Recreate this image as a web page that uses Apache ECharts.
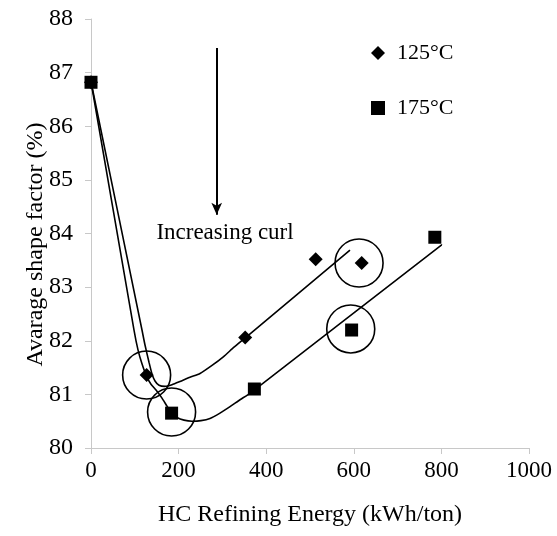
<!DOCTYPE html>
<html>
<head>
<meta charset="utf-8">
<script src="https://cdn.jsdelivr.net/npm/echarts@6/dist/echarts.min.js"></script>
<style>html,body{margin:0;padding:0;background:#fff}#c{width:557px;height:536px}</style>
</head>
<body>
<div id="c"></div>
<script>
// Measured points
var pts125 = [[0, 86.82], [127, 81.36], [352, 82.06], [513, 83.52], [618, 83.45]];
var pts175 = [[0, 86.82], [184, 80.65], [373, 81.10], [595, 82.20], [785, 83.93]];
// Hand-drawn trend curves
var trendA = [[0, 86.83], [98.2, 82.20], [107.3, 81.83], [116.4, 81.57], [127.2, 81.33], [137.0, 81.19],
  [148.4, 81.08], [162.1, 80.93], [173.5, 80.78], [184.2, 80.65], [196.3, 80.57], [212.3, 80.52],
  [230.6, 80.50], [251.1, 80.51], [271.7, 80.55], [294.5, 80.65], [317.4, 80.77], [340.2, 80.90],
  [363.0, 81.02], [800.7, 83.79]];
var trendB = [[0, 86.83], [116.4, 82.20], [123.3, 81.92], [132.4, 81.60], [139.3, 81.38], [146.1, 81.25],
  [155.3, 81.17], [169.0, 81.15], [184.9, 81.18], [203.2, 81.24], [226.0, 81.32], [248.9, 81.39],
  [276.3, 81.54], [302.1, 81.70], [326.5, 81.88], [351.6, 82.05], [591.3, 83.69]];
// Circled points
var circled = [[127, 81.36], [184, 80.67], [612, 83.45], [593, 82.22]];
// Annotation
var arrowFrom = [287, 87.46];
var arrowTo = [287, 84.35];
var noteAt = [306, 84.01];
var noteText = 'Increasing curl';
var xTicks = {min: 0, max: 1000, interval: 200};
var yTicks = {min: 80, max: 88, interval: 1};

var FONT = 'Liberation Serif';
var chart = echarts.init(document.getElementById('c'), null, {renderer: 'canvas'});
var trendStyle = {color: '#000', width: 1.6};
chart.setOption({
  animation: false,
  backgroundColor: '#fff',
  textStyle: {fontFamily: FONT, color: '#000'},
  grid: {left: 91, right: 28, top: 19, bottom: 88},
  legend: {
    orient: 'vertical', left: 371, top: 42, itemGap: 33, padding: 0,
    itemWidth: 14, itemHeight: 14,
    textStyle: {fontFamily: FONT, fontSize: 22, color: '#000', lineHeight: 22, padding: [0, 0, 0, 7]},
    data: [{name: '125°C', icon: 'diamond'}, {name: '175°C', icon: 'rect'}]
  },
  xAxis: {
    type: 'value', min: xTicks.min, max: xTicks.max, interval: xTicks.interval,
    name: 'HC Refining Energy (kWh/ton)', nameLocation: 'middle', nameGap: 55, nameMoveOverlap: false,
    nameTextStyle: {fontFamily: FONT, fontSize: 24, color: '#000'},
    axisLine: {show: true, lineStyle: {color: '#c8c8c8', width: 1}},
    axisTick: {show: true, length: 6, lineStyle: {color: '#c8c8c8'}},
    axisLabel: {fontFamily: FONT, fontSize: 23, color: '#000', margin: 11, formatter: function (v) { return String(v); }},
    splitLine: {show: false}
  },
  yAxis: {
    type: 'value', min: yTicks.min, max: yTicks.max, interval: yTicks.interval,
    name: 'Avarage shape factor (%)', nameLocation: 'middle', nameGap: 43, nameMoveOverlap: false,
    nameTextStyle: {fontFamily: FONT, fontSize: 24, color: '#000', padding: [0, 22, 0, 0]},
    axisLine: {show: true, lineStyle: {color: '#c8c8c8', width: 1}},
    axisTick: {show: true, length: 6, lineStyle: {color: '#c8c8c8'}},
    axisLabel: {fontFamily: FONT, fontSize: 24, color: '#000', margin: 18, formatter: function (v) { return String(v); }},
    splitLine: {show: false}
  },
  series: [
    {type: 'line', data: trendA, smooth: 0.2, showSymbol: false, symbol: 'none', lineStyle: trendStyle, z: 2, silent: true},
    {type: 'line', data: trendB, smooth: 0.2, showSymbol: false, symbol: 'none', lineStyle: trendStyle, z: 2, silent: true,
      markLine: {
        silent: true, symbol: ['none', 'arrow'], symbolSize: [8, 12],
        lineStyle: {color: '#000', width: 2, type: 'solid'},
        label: {show: false},
        data: [[{coord: arrowFrom}, {coord: arrowTo}]]
      },
      markPoint: {
        silent: true, symbol: 'circle', symbolSize: 1, itemStyle: {color: 'rgba(0,0,0,0)'},
        label: {show: true, formatter: noteText, fontFamily: FONT, fontSize: 23, color: '#000', position: 'inside'},
        data: [{coord: noteAt}]
      }
    },
    {type: 'scatter', data: circled, symbol: 'circle', symbolSize: 48, silent: true,
      itemStyle: {color: 'rgba(0,0,0,0)', borderColor: '#000', borderWidth: 1.6, opacity: 1}, z: 3},
    {name: '125°C', type: 'scatter', data: pts125, symbol: 'diamond', symbolSize: 14, itemStyle: {color: '#000', opacity: 1}, z: 4},
    {name: '175°C', type: 'scatter', data: pts175, symbol: 'rect', symbolSize: 13, itemStyle: {color: '#000', opacity: 1}, z: 5}
  ]
});
</script>
</body>
</html>
